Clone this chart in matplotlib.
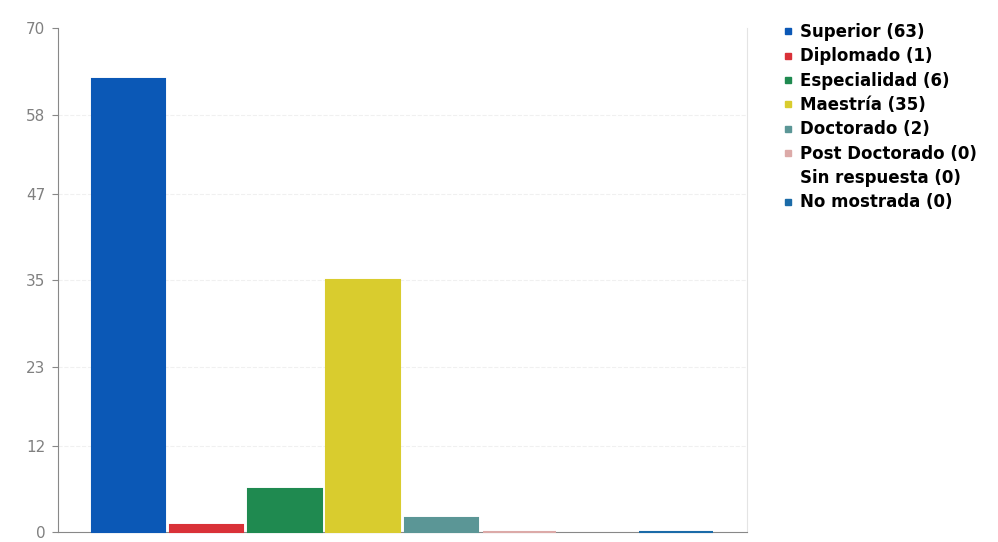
import matplotlib
matplotlib.use("Agg")
from matplotlib import pyplot as plt
from matplotlib.lines import Line2D

categories = ["Superior", "Diplomado", "Especialidad", "Maestría", "Doctorado",
              "Post Doctorado", "Sin respuesta", "No mostrada"]
counts = [63, 1, 6, 35, 2, 0, 0, 0]
colors = ["#0b58b6", "#d93138", "#1f8a50", "#d9cc2e", "#5b9696",
          "#dcaaa8", "none", "#1b6ba8"]
y_ticks = [0, 12, 23, 35, 47, 58, 70]

fig = plt.figure(figsize=(9.98, 5.42), dpi=100)
ax = fig.add_axes([0.058, 0.018, 0.69, 0.93])

x = range(len(categories))
ax.bar(x, counts, width=0.94, color=colors, edgecolor=colors, linewidth=1.5,
       zorder=3, clip_on=False)

ax.set_ylim(0, 70)
ax.set_xlim(-0.9, len(categories) - 0.1)
ax.set_yticks(y_ticks)
ax.set_yticklabels([str(t) for t in y_ticks], color="#808080", fontsize=11,
                   family="DejaVu Sans")
ax.tick_params(axis="y", length=4, color="#888888", pad=5)
ax.set_xticks([])
for t in y_ticks[1:-1]:
    ax.axhline(t, color="#f0f0f0", linewidth=0.8, linestyle="--", zorder=0)

ax.spines["top"].set_visible(False)
ax.spines["right"].set_color("#e4e4e4")
ax.spines["left"].set_color("#888888")
ax.spines["bottom"].set_color("#888888")

handles = []
for name, n, c in zip(categories, counts, colors):
    handles.append(Line2D([], [], marker="s", linestyle="none", markersize=4,
                          color=c, label=f"{name} ({n})"))
fig.legend(handles=handles, loc="upper left", bbox_to_anchor=(0.768, 0.985),
           frameon=False, handletextpad=0.3, labelspacing=0.38, handlelength=0.8,
           prop={"family": "DejaVu Sans", "weight": "bold", "size": 12})

plt.savefig("out.png", dpi=100)
